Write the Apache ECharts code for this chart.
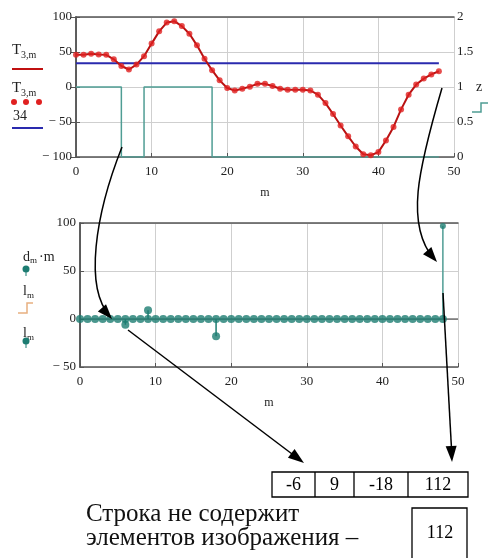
<!DOCTYPE html>
<html>
<head>
<meta charset="utf-8">
<script src="https://cdn.jsdelivr.net/npm/echarts@6/dist/echarts.min.js"></script>
<style>
html,body{margin:0;padding:0;background:#fff;}
#c{width:488px;height:558px;}
</style>
</head>
<body>
<div id="c"></div>
<script>
// ---- data ----
const mVals = [0,1,2,3,4,5,6,7,8,9,10,11,12,13,14,15,16,17,18,19,20,21,22,23,24,25,26,27,28,29,30,31,32,33,34,35,36,37,38,39,40,41,42,43,44,45,46,47,48];
const T3 = [46,46,47.5,46.5,46,39.5,30,25,32,44,62,79.5,92,94,87,76,59.5,40.5,24,9.5,-1.5,-5,-2.5,0.5,4.5,4.5,1.5,-2.5,-4,-4,-4,-5,-11,-23,-38.5,-55,-70.5,-85,-96,-97.5,-93,-76.5,-57,-32,-11,3.5,12,18,22.5];
const blueLevel = 34;
const zVals = [1,1,1,1,1,1,0,0,0,1,1,1,1,1,1,1,1,1,0,0,0,0,0,0,0,0,0,0,0,0,0,0,0,0,0,0,0,0,0,0,0,0,0,0,0,0,0,0,0];
const dmm = [0,0,0,0,0,0,-6,0,0,9,0,0,0,0,0,0,0,0,-18,0,0,0,0,0,0,0,0,0,0,0,0,0,0,0,0,0,0,0,0,0,0,0,0,0,0,0,0,0,97];
const lmVals = [0,0,0,0,0,0,0,0,0,0,0,0,0,0,0,0,0,0,0,0,0,0,0,0,0,0,0,0,0,0,0,0,0,0,0,0,0,0,0,0,0,0,0,0,0,0,0,0,0];
const xTicks = [0,10,20,30,40,50];
const tableVals = ['-6','9','-18','112'];
const boxVal = '112';
const captionLines = ['Строка не содержит','элементов изображения –'];

// ---- build ----
const serif = 'Liberation Serif, Times New Roman, serif';
const axisCol = '#555';
const gridCol = '#cfcfcf';
const teal = '#1d7d72';
const tealLight = '#4f9d94';
const fmt = v => v < 0 ? '\u2212 ' + Math.abs(v) : String(v);

const tPts = mVals.map((m,i)=>[m,T3[i]]);
const bluePts = [[mVals[0],blueLevel],[mVals[mVals.length-1],blueLevel]];
const zPts = mVals.map((m,i)=>[m,zVals[i]]);
const dPts = mVals.map((m,i)=>[m,dmm[i]]).filter(p=>p[1]!==0);
const lPts = mVals.map((m,i)=>[m,lmVals[i]]);
const zeroPts = [[xTicks[0],0],[xTicks[xTicks.length-1],0]];

function baseX(grid){
  return {
    gridIndex:grid, type:'value', min:0, max:50, interval:10, position:'bottom',
    axisLine:{show:true,onZero:false,lineStyle:{color:axisCol,width:1.5}},
    axisTick:{show:true,inside:true,length:4,lineStyle:{color:axisCol}},
    splitLine:{show:true,lineStyle:{color:gridCol,width:1}},
    axisLabel:{fontFamily:serif,fontSize:13,color:'#222',margin:8},
    name:'m', nameLocation:'middle', nameGap:30,
    nameTextStyle:{fontFamily:serif,fontSize:12,color:'#222'}
  };
}
function topX(grid){
  return {gridIndex:grid,type:'value',min:0,max:50,position:'top',
    axisLine:{show:true,onZero:false,lineStyle:{color:axisCol,width:1.5}},
    axisTick:{show:false},axisLabel:{show:false},splitLine:{show:false}};
}

function arrowHead(tx,ty,fx,fy,len,wid){
  const dx=tx-fx, dy=ty-fy, L=Math.hypot(dx,dy);
  const ux=dx/L, uy=dy/L, px=-uy, py=ux;
  const bx=tx-ux*len, by=ty-uy*len;
  return {type:'polygon',z:100,shape:{points:[[tx,ty],[bx+px*wid/2,by+py*wid/2],[bx-px*wid/2,by-py*wid/2]]},style:{fill:'#000'}};
}
const lineSt = {stroke:'#000',lineWidth:1.5,fill:null};

const graphics = [
  // top legend
  {type:'text',x:12,y:43,style:{text:'T',font:'15px '+serif,fill:'#222'}},
  {type:'text',x:21,y:50,style:{text:'3,m',font:'10px '+serif,fill:'#222'}},
  {type:'line',shape:{x1:12,y1:69,x2:43,y2:69},style:{stroke:'#c01010',lineWidth:2}},
  {type:'text',x:12,y:81,style:{text:'T',font:'15px '+serif,fill:'#222'}},
  {type:'text',x:21,y:88,style:{text:'3,m',font:'10px '+serif,fill:'#222'}},
  {type:'circle',shape:{cx:14,cy:102,r:3},style:{fill:'#e02020'}},
  {type:'circle',shape:{cx:26,cy:102,r:3},style:{fill:'#e02020'}},
  {type:'circle',shape:{cx:39,cy:102,r:3},style:{fill:'#e02020'}},
  {type:'text',x:13,y:109,style:{text:'34',font:'14px '+serif,fill:'#222'}},
  {type:'line',shape:{x1:12,y1:128,x2:43,y2:128},style:{stroke:'#2a2aae',lineWidth:2}},
  // right legend (top chart)
  {type:'text',x:476,y:80,style:{text:'z',font:'14px '+serif,fill:'#222'}},
  {type:'polyline',shape:{points:[[472,112],[481,112],[481,103],[488,103]]},style:{stroke:tealLight,lineWidth:1.5,fill:null}},
  // bottom legend
  {type:'text',x:23,y:250,style:{text:'d',font:'14px '+serif,fill:'#222'}},
  {type:'text',x:30,y:256,style:{text:'m',font:'9px '+serif,fill:'#222'}},
  {type:'text',x:39,y:250,style:{text:'\u00b7m',font:'14px '+serif,fill:'#222'}},
  {type:'circle',shape:{cx:26,cy:269,r:3.5},style:{fill:teal}},
  {type:'line',shape:{x1:26,y1:269,x2:26,y2:276},style:{stroke:teal,lineWidth:1}},
  {type:'text',x:23,y:284,style:{text:'l',font:'14px '+serif,fill:'#222'}},
  {type:'text',x:27,y:291,style:{text:'m',font:'9px '+serif,fill:'#222'}},
  {type:'polyline',shape:{points:[[18,313],[27,313],[27,303],[33,303]]},style:{stroke:'#e8b080',lineWidth:1.5,fill:null}},
  {type:'text',x:23,y:326,style:{text:'l',font:'14px '+serif,fill:'#222'}},
  {type:'text',x:27,y:333,style:{text:'m',font:'9px '+serif,fill:'#222'}},
  {type:'circle',shape:{cx:26,cy:341,r:3.5},style:{fill:teal}},
  {type:'line',shape:{x1:26,y1:341,x2:26,y2:348},style:{stroke:teal,lineWidth:1}},
  // arrows
  {type:'bezierCurve',z:100,shape:{x1:122,y1:147,cpx1:95,cpy1:215,cpx2:84,cpy2:288,x2:110,y2:316},style:lineSt},
  arrowHead(112,319,84,288,15,11),
  {type:'bezierCurve',z:100,shape:{x1:442,y1:88,cpx1:418,cpy1:170,cpx2:405,cpy2:225,x2:434,y2:259},style:lineSt},
  arrowHead(437,262,405,225,15,11),
  {type:'line',z:100,shape:{x1:128,y1:330,x2:300,y2:460},style:lineSt},
  arrowHead(304,463,128,330,16,11),
  {type:'line',z:100,shape:{x1:443,y1:293,x2:452,y2:458},style:lineSt},
  arrowHead(452,462,443,293,16,11),
];
// table
const cellEdges = [272,315,354,408,468];
graphics.push({type:'rect',shape:{x:272,y:472,width:196,height:25},style:{fill:null,stroke:'#000',lineWidth:1.3}});
for(let i=1;i<cellEdges.length-1;i++){
  graphics.push({type:'line',shape:{x1:cellEdges[i],y1:472,x2:cellEdges[i],y2:497},style:{stroke:'#000',lineWidth:1.3}});
}
tableVals.forEach((t,i)=>{
  graphics.push({type:'text',x:(cellEdges[i]+cellEdges[i+1])/2,y:485,style:{text:t,font:'18px '+serif,fill:'#000',textAlign:'center',textVerticalAlign:'middle'}});
});
graphics.push({type:'rect',shape:{x:412,y:508,width:55,height:60},style:{fill:null,stroke:'#000',lineWidth:1.3}});
graphics.push({type:'text',x:440,y:533,style:{text:boxVal,font:'18px '+serif,fill:'#000',textAlign:'center',textVerticalAlign:'middle'}});
captionLines.forEach((t,i)=>{
  graphics.push({type:'text',x:86,y:527+i*24,style:{text:t,font:'25px '+serif,fill:'#111',textVerticalAlign:'bottom'}});
});

const option = {
  animation:false,
  backgroundColor:'#fff',
  grid:[
    {left:76,top:17,width:378,height:140},
    {left:80,top:223,width:378,height:144}
  ],
  xAxis:[baseX(0), topX(0), baseX(1), topX(1)],
  yAxis:[
    {gridIndex:0,type:'value',min:-100,max:100,interval:50,
      axisLine:{show:true,lineStyle:{color:axisCol,width:1.5}},
      axisTick:{show:true,inside:true,length:4,lineStyle:{color:axisCol}},
      splitLine:{show:true,lineStyle:{color:gridCol}},
      axisLabel:{fontFamily:serif,fontSize:13,color:'#222',margin:4,formatter:fmt}},
    {gridIndex:0,type:'value',min:0,max:2,interval:0.5,position:'right',
      axisLine:{show:true,lineStyle:{color:axisCol,width:1.5}},
      axisTick:{show:true,inside:true,length:5,lineStyle:{color:axisCol}},
      splitLine:{show:false},
      axisLabel:{fontFamily:serif,fontSize:13,color:'#222',margin:3}},
    {gridIndex:1,type:'value',min:-50,max:100,interval:50,
      axisLine:{show:true,lineStyle:{color:axisCol,width:1.5}},
      axisTick:{show:true,inside:true,length:4,lineStyle:{color:axisCol}},
      splitLine:{show:true,lineStyle:{color:gridCol}},
      axisLabel:{fontFamily:serif,fontSize:13,color:'#222',margin:4,formatter:fmt}},
    {gridIndex:1,type:'value',min:-50,max:100,position:'right',
      axisLine:{show:true,lineStyle:{color:axisCol,width:1.5}},
      axisTick:{show:false},axisLabel:{show:false},splitLine:{show:false}}
  ],
  series:[
    {type:'line',xAxisIndex:0,yAxisIndex:1,data:zPts,step:'end',showSymbol:false,
      lineStyle:{color:tealLight,width:1.5},z:3},
    {type:'line',xAxisIndex:0,yAxisIndex:0,data:bluePts,showSymbol:false,
      lineStyle:{color:'#2a2aae',width:2},z:4},
    {type:'line',xAxisIndex:0,yAxisIndex:0,data:tPts,showSymbol:false,smooth:false,
      lineStyle:{color:'#b81212',width:2},z:5},
    {type:'scatter',xAxisIndex:0,yAxisIndex:0,data:tPts,symbol:'circle',symbolSize:6,
      itemStyle:{color:'#e02020'},z:6},
    {type:'line',xAxisIndex:2,yAxisIndex:2,data:zeroPts,showSymbol:false,
      lineStyle:{color:'#333',width:1},z:3},
    {type:'bar',xAxisIndex:2,yAxisIndex:2,data:dPts,barWidth:1.5,
      itemStyle:{color:p=>p.value[1]>50?tealLight:teal},z:4},
    {type:'scatter',xAxisIndex:2,yAxisIndex:2,data:lPts,symbol:'circle',symbolSize:8,
      itemStyle:{color:teal},z:5},
    {type:'scatter',xAxisIndex:2,yAxisIndex:2,data:dPts,symbol:'circle',
      symbolSize:v=>v[1]>50?6:8,itemStyle:{color:teal},z:6}
  ],
  graphic:graphics
};
const chart = echarts.init(document.getElementById('c'),null,{renderer:'canvas'});
chart.setOption(option);
</script>
</body>
</html>
